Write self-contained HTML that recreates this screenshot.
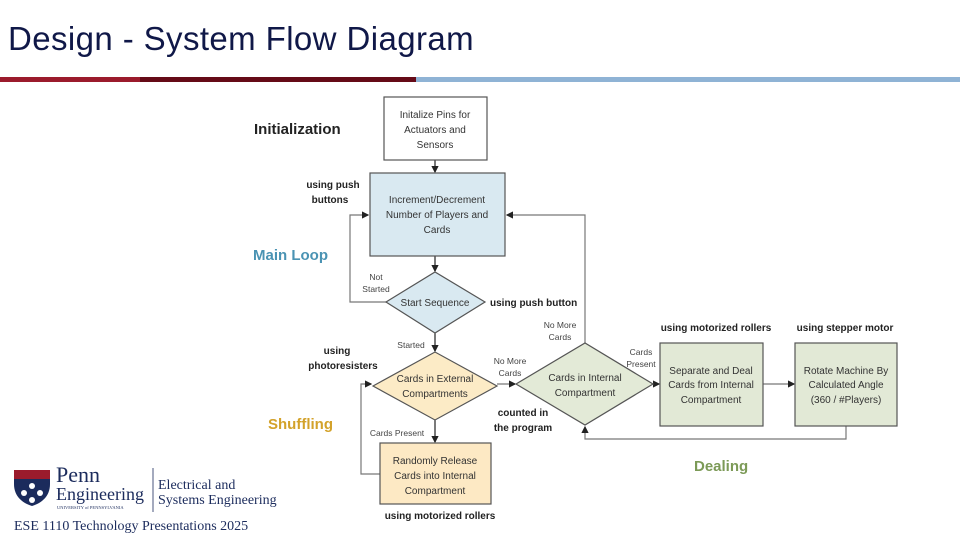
<!DOCTYPE html>
<html><head><meta charset="utf-8"><style>
body{margin:0;width:960px;height:540px;overflow:hidden;background:#fff;position:relative;font-family:"Liberation Sans",sans-serif}
.t{position:absolute}
</style></head><body>
<div class="t" style="left:8px;top:20px;font-size:33px;color:#101848;letter-spacing:0.4px">Design - System Flow Diagram</div>
<div class="t" style="left:0;top:77px;width:140px;height:5px;background:#9b1b2c"></div>
<div class="t" style="left:140px;top:77px;width:276px;height:5px;background:#650a17"></div>
<div class="t" style="left:416px;top:77px;width:544px;height:5px;background:#8fb3d5"></div>
<svg class="t" style="left:0;top:0" width="960" height="540" font-family="Liberation Sans, sans-serif">
<defs><marker id="a" markerWidth="6" markerHeight="6" refX="5" refY="3" orient="auto"><path d="M0,0L6,3L0,6z" fill="#222"/></marker></defs>
<g stroke="#777" stroke-width="1.2" fill="none">
<line x1="435" y1="160" x2="435" y2="172" stroke="#222" marker-end="url(#a)"/>
<line x1="435" y1="256" x2="435" y2="271" stroke="#222" marker-end="url(#a)"/>
<polyline points="386,302 350,302 350,215 368,215" marker-end="url(#a)"/>
<polyline points="585,343 585,215 507,215" marker-end="url(#a)"/>
<line x1="435" y1="333" x2="435" y2="351" stroke="#222" marker-end="url(#a)"/>
<line x1="435" y1="420" x2="435" y2="442" stroke="#222" marker-end="url(#a)"/>
<polyline points="380,474 361,474 361,384 371,384" marker-end="url(#a)"/>
<line x1="497" y1="384" x2="515" y2="384" marker-end="url(#a)"/>
<line x1="653" y1="384" x2="659" y2="384" marker-end="url(#a)"/>
<line x1="763" y1="384" x2="794" y2="384" marker-end="url(#a)"/>
<polyline points="846,426 846,439 585,439 585,427" marker-end="url(#a)"/>
</g>
<g stroke="#555" stroke-width="1.2">
<rect x="384" y="97" width="103" height="63" fill="#fff"/>
<rect x="370" y="173" width="135" height="83" fill="#d9e9f1"/>
<polygon points="386,302 435,272 485,302 435,333" fill="#d9e9f1"/>
<polygon points="373,386 435,352 497,386 435,420" fill="#fcebc6"/>
<rect x="380" y="443" width="111" height="61" fill="#fde9c4"/>
<polygon points="516,384 585,343 653,384 585,425" fill="#e3ead7"/>
<rect x="660" y="343" width="103" height="83" fill="#e2e9d6"/>
<rect x="795" y="343" width="102" height="83" fill="#e2e9d6"/>
</g>
<g font-size="10" fill="#333" text-anchor="middle">
<text x="435" y="118">Initalize Pins for</text><text x="435" y="133">Actuators and</text><text x="435" y="148">Sensors</text>
<text x="437" y="203">Increment/Decrement</text><text x="437" y="218">Number of Players and</text><text x="437" y="233">Cards</text>
<text x="435" y="306">Start Sequence</text>
<text x="435" y="382">Cards in External</text><text x="435" y="397">Compartments</text>
<text x="435" y="464">Randomly Release</text><text x="435" y="479">Cards into Internal</text><text x="435" y="494">Compartment</text>
<text x="585" y="381">Cards in Internal</text><text x="585" y="396">Compartment</text>
<text x="711" y="374">Separate and Deal</text><text x="711" y="388">Cards from Internal</text><text x="711" y="403">Compartment</text>
<text x="846" y="374">Rotate Machine By</text><text x="846" y="388">Calculated Angle</text><text x="846" y="403">(360 / #Players)</text>
</g>
<g font-size="8.5" fill="#444" text-anchor="middle">
<text x="376" y="280">Not</text><text x="376" y="292">Started</text>
<text x="411" y="348">Started</text>
<text x="397" y="436">Cards Present</text>
<text x="510" y="364">No More</text><text x="510" y="376">Cards</text>
<text x="560" y="328">No More</text><text x="560" y="340">Cards</text>
<text x="641" y="355">Cards</text><text x="641" y="367">Present</text>
</g>
<g font-size="10" font-weight="bold" fill="#222">
<text x="333" y="188" text-anchor="middle">using push</text><text x="330" y="203" text-anchor="middle">buttons</text>
<text x="490" y="306">using push button</text>
<text x="337" y="354" text-anchor="middle">using</text><text x="343" y="369" text-anchor="middle">photoresisters</text>
<text x="523" y="416" text-anchor="middle">counted in</text><text x="523" y="431" text-anchor="middle">the program</text>
<text x="440" y="519" text-anchor="middle">using motorized rollers</text>
<text x="716" y="331" text-anchor="middle">using motorized rollers</text>
<text x="845" y="331" text-anchor="middle">using stepper motor</text>
</g>
<g font-size="15" font-weight="bold">
<text x="254" y="134" fill="#222">Initialization</text>
<text x="253" y="260" fill="#4a93b3">Main Loop</text>
<text x="268" y="429" fill="#d3a22a">Shuffling</text>
<text x="694" y="471" fill="#7c9a57">Dealing</text>
</g>
<path d="M14,470h36v14c0,12-8,19-18,22c-10-3-18-10-18-22z" fill="#1b2b5c"/>
<rect x="14" y="470" width="36" height="9" fill="#9b1b2c"/>
<g fill="#fff"><circle cx="32" cy="486" r="3"/><circle cx="24" cy="493" r="3"/><circle cx="40" cy="493" r="3"/><circle cx="32" cy="500" r="3"/></g>
<g font-family="Liberation Serif, serif" fill="#1b2b5c">
<text x="56" y="482" font-size="22">Penn</text>
<text x="56" y="500" font-size="18">Engineering</text>
<text x="57" y="509" font-size="4.5">UNIVERSITY of PENNSYLVANIA</text>
<text x="158" y="489" font-size="14">Electrical and</text>
<text x="158" y="504" font-size="14">Systems Engineering</text>
</g>
<line x1="153" y1="468" x2="153" y2="512" stroke="#1b2b5c" stroke-width="0.8"/>
<text x="14" y="530" font-family="Liberation Serif, serif" font-size="14" fill="#1b2b5c">ESE 1110 Technology Presentations 2025</text>
</svg>
</body></html>
